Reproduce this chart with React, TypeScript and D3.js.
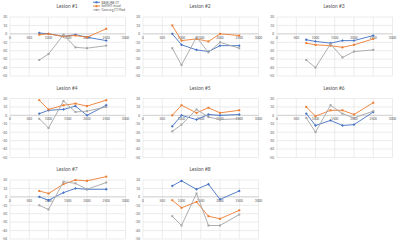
import React from "react";
import * as d3 from "d3";

const lesionTitles = ["Lesion #1", "Lesion #2", "Lesion #3", "Lesion #4", "Lesion #5", "Lesion #6", "Lesion #7", "Lesion #8"];
const seriesNames = ["BASELINE CT", "SoMMT visual", "Conv.seg CT Mod"];
const seriesColors = ["#4472C4", "#ED7D31", "#A5A5A5"];
const xValues = [760, 1000, 1390, 1700, 2000, 2500];
const xTicks = [0, 500, 1000, 1500, 2000, 2500, 3000];
const yTicks = [20, 10, 0, -10, -20, -30, -40, -50];

const baseline = [
  [1, 0, -3, -1, -4, -8],
  [0, -13, -19, -21, -14, -14],
  [-7, -9, -11, -8, -8, -2],
  [2, 6, 7, 11, 0, 12],
  [-13, 0, -5, 1, 0, 1],
  [2, -12, -6, -12, -11, 4],
  [0, -4, 5, 10, 9, 9],
  [13, 19, 9, 15, -3, 7],
];
const visual = [
  [-1, 0, -3, -2, -4, 6],
  [10, -8, -6, -9, 0, -2],
  [-11, -13, -14, -16, -13, -6],
  [18, 7, 12, 14, 11, 18],
  [0, 12, 3, 9, 3, 6],
  [10, -1, 6, 6, 1, 15],
  [7, 4, 15, 20, 19, 24],
  [-4, -13, -6, -23, -26, -16],
];
const convseg = [
  [-31, -24, -1, -16, -17, -14],
  [-17, -37, -4, -22, -10, -17],
  [-31, -40, -12, -28, -21, -19],
  [-4, -15, 17, 4, 5, 10],
  [-19, -11, 7, -2, -5, -4],
  [-3, -20, 12, 2, -3, 5],
  [-10, -15, 18, 16, 9, 17],
  [-23, -34, 4, -34, -34, -21],
];

const colX = [0, 133, 267];
const rowY = [0, 81.5, 163];
const font = "Calibri, 'Liberation Sans', Arial, sans-serif";

function Panel({ idx }: { idx: number }) {
  const ox = colX[idx % 3];
  const oy = rowY[Math.floor(idx / 3)];
  const x = d3.scaleLinear().domain([0, 3000]).range([10, 125.5]);
  const y = d3.scaleLinear().domain([20, -50]).range([17, 76]);
  const data = [baseline[idx], visual[idx], convseg[idx]];
  const line = d3
    .line<number>()
    .x((_, i) => x(xValues[i]))
    .y((d) => y(d));
  return (
    <g transform={`translate(${ox},${oy})`}>
      <text x={67} y={8} fontSize={5.5} fill="#595959" textAnchor="middle" fontFamily={font}>
        {lesionTitles[idx]}
      </text>
      {yTicks.map((t) => (
        <g key={"y" + t}>
          <line x1={x(0)} x2={x(3000)} y1={y(t)} y2={y(t)} stroke="#D9D9D9" strokeWidth={0.5} />
          <text x={7} y={y(t) + 1.3} fontSize={3.6} fill="#595959" textAnchor="end" fontFamily={font}>
            {t}
          </text>
        </g>
      ))}
      {xTicks.map((t) => (
        <line key={"x" + t} x1={x(t)} x2={x(t)} y1={y(20)} y2={y(-50)} stroke="#D9D9D9" strokeWidth={0.5} />
      ))}
      <line x1={x(0)} x2={x(3000)} y1={y(0)} y2={y(0)} stroke="#BFBFBF" strokeWidth={0.6} />
      {xTicks.map((t) => (
        <text key={"xl" + t} x={x(t)} y={y(0) + 5} fontSize={3.6} fill="#595959" textAnchor="middle" fontFamily={font}>
          {t}
        </text>
      ))}
      {data.map((s, si) => (
        <g key={"s" + si}>
          <path d={line(s) || ""} fill="none" stroke={seriesColors[si]} strokeWidth={0.9} />
          {s.map((v, i) => (
            <rect
              key={i}
              x={x(xValues[i]) - 1}
              y={y(v) - 1}
              width={2}
              height={2}
              fill={seriesColors[si]}
              transform={si === 0 ? `rotate(45 ${x(xValues[i])} ${y(v)})` : undefined}
            />
          ))}
        </g>
      ))}
    </g>
  );
}

export default function App() {
  return (
    <svg
      width={400}
      height={243}
      style={{ position: "absolute", left: 0, top: 0, background: "#fff" }}
      xmlns="http://www.w3.org/2000/svg"
    >
      <rect width={400} height={243} fill="#fff" />
      {lesionTitles.map((_, i) => (
        <Panel key={i} idx={i} />
      ))}
      <g>
        {seriesNames.map((n, i) => (
          <g key={n} transform={`translate(93,${2.3 + i * 3.8})`}>
            <line x1={0} x2={7} y1={0} y2={0} stroke={seriesColors[i]} strokeWidth={0.9} />
            <rect x={2.5} y={-1} width={2} height={2} fill={seriesColors[i]} />
            <text x={8.5} y={1.2} fontSize={3.4} fill="#595959" fontFamily={font}>
              {n}
            </text>
          </g>
        ))}
      </g>
    </svg>
  );
}
